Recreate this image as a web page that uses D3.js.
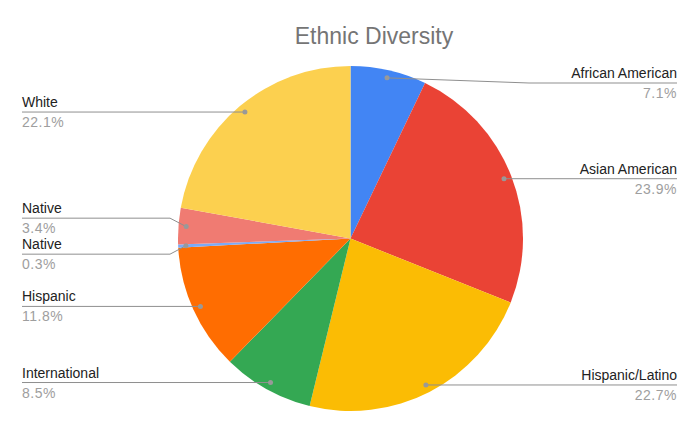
<!DOCTYPE html>
<html>
<head>
<meta charset="utf-8">
<script src="https://cdn.jsdelivr.net/npm/d3@7"></script>
<style>
  body { margin: 0; background: #fff; }
  text { font-family: Arial, "Liberation Sans", sans-serif; }
</style>
</head>
<body>
<script>
// Data
var categories = ["African American", "Asian American", "Hispanic/Latino", "International",
                  "Hispanic", "Native", "Native", "White"];
var values = [7.1, 23.9, 22.7, 8.5, 11.8, 0.3, 3.4, 22.1];
var colors = ["#4285f4", "#ea4335", "#fbbc04", "#34a853", "#ff6d01", "#7baaf7", "#f07b72", "#fcd04f"];

var width = 700, height = 433;
var cx = 350.5, cy = 238.5, radius = 172.5;

var svg = d3.select("body").append("svg")
    .attr("width", width)
    .attr("height", height);

// Title
svg.append("text")
    .attr("x", 374)
    .attr("y", 44)
    .attr("text-anchor", "middle")
    .attr("font-size", "23px")
    .attr("fill", "#757575")
    .text("Ethnic Diversity");

var pie = d3.pie().sort(null).value(function(d) { return d; });
var arcs = pie(values);

var arc = d3.arc().innerRadius(0).outerRadius(radius);
var dotArc = d3.arc().innerRadius(radius * 0.955).outerRadius(radius * 0.955);

var g = svg.append("g").attr("transform", "translate(" + cx + "," + cy + ")");

g.selectAll("path")
    .data(arcs)
    .enter()
    .append("path")
    .attr("d", arc)
    .attr("fill", function(d, i) { return colors[i]; });

// Label positions: start at the dot, then spread apart per side
var labels = arcs.map(function(d, i) {
    var c = dotArc.centroid(d);
    var mid = (d.startAngle + d.endAngle) / 2;
    return { i: i, dx: c[0] + cx, dy: c[1] + cy, right: mid < Math.PI, y: c[1] + cy };
});

function spread(list) {
    list.sort(function(a, b) { return a.dy - b.dy; });
    var gap = 36, top = 83;
    for (var k = 0; k < 30; k++) {
        list.forEach(function(l) { if (l.y < top) l.y = top; });
        for (var j = 1; j < list.length; j++) {
            var diff = list[j].y - list[j - 1].y;
            if (diff < gap) {
                var push = (gap - diff) / 2;
                list[j].y += push;
                list[j - 1].y -= push;
            }
        }
    }
}
spread(labels.filter(function(l) { return l.right; }));
spread(labels.filter(function(l) { return !l.right; }));

var lab = svg.append("g");
labels.forEach(function(l) {
    var bendX = l.right ? cx + radius + 6 : cx - radius - 8;
    var endX = l.right ? 677 : 22;
    var pts = [[l.dx, l.dy], [bendX, l.y], [endX, l.y]];
    if (l.right ? l.dx > bendX : l.dx < bendX) pts = [[l.dx, l.dy], [endX, l.y]];

    lab.append("path")
        .attr("d", d3.line()(pts))
        .attr("fill", "none")
        .attr("stroke", "#8f8f8f")
        .attr("stroke-width", 1);

    lab.append("circle")
        .attr("cx", l.dx)
        .attr("cy", l.dy)
        .attr("r", 2.5)
        .attr("fill", "#999");

    lab.append("text")
        .attr("x", endX)
        .attr("y", l.y - 5)
        .attr("text-anchor", l.right ? "end" : "start")
        .attr("font-size", "14px")
        .attr("fill", "#222")
        .text(categories[l.i]);

    lab.append("text")
        .attr("x", endX)
        .attr("y", l.y + 15)
        .attr("text-anchor", l.right ? "end" : "start")
        .attr("font-size", "14px")
        .attr("letter-spacing", "0.5px")
        .attr("fill", "#9e9e9e")
        .text(values[l.i].toFixed(1) + "%");
});
</script>
</body>
</html>
